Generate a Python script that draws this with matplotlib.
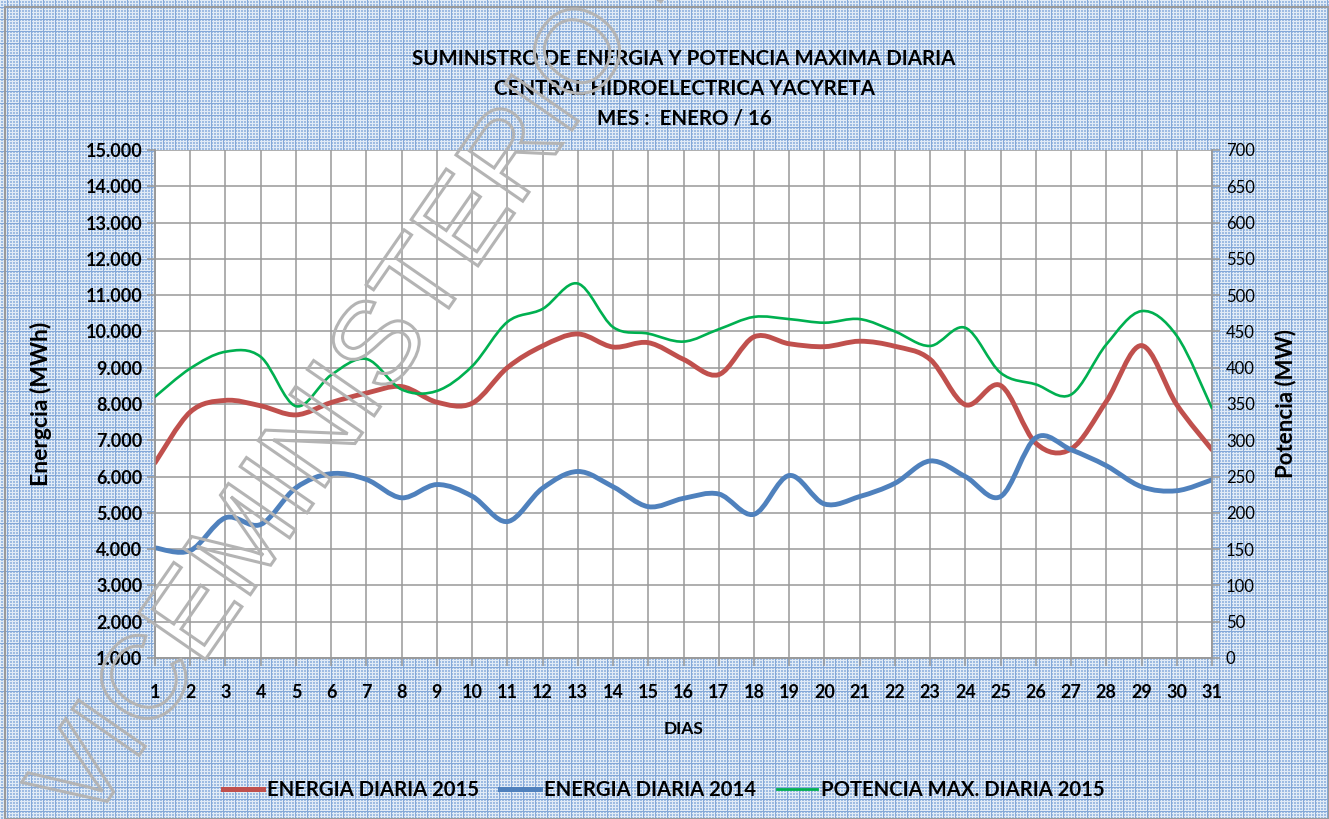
import numpy as np
import matplotlib
matplotlib.use('Agg')
import matplotlib.pyplot as plt
from matplotlib.path import Path
from matplotlib.patches import PathPatch, Rectangle
from matplotlib.lines import Line2D
from matplotlib.textpath import TextPath
from matplotlib.font_manager import FontProperties
from matplotlib.transforms import Affine2D
from matplotlib.ticker import FuncFormatter

plt.rcParams['font.family'] = ['Lato', 'DejaVu Sans']

dias = list(range(1, 32))
energia_2015 = [6380, 7780, 8100, 7950, 7700, 8040, 8300, 8480, 8050, 8020,
                9000, 9600, 9930, 9570, 9690, 9230, 8810, 9850, 9660, 9580,
                9730, 9590, 9230, 7980, 8510, 6920, 6760, 8070, 9610, 7980,
                6740]
energia_2014 = [4035, 3960, 4865, 4680, 5690, 6080, 5920, 5415, 5780, 5460,
                4760, 5680, 6140, 5720, 5170, 5400, 5520, 4960, 6030, 5245,
                5450, 5815, 6430, 6000, 5450, 7070, 6740, 6300, 5720, 5610,
                5910]
potencia_2015 = [360, 399, 422, 415, 347, 390, 412, 370, 368, 402,
                 463, 481, 516, 456, 447, 436, 453, 470, 467, 462,
                 467, 450, 430, 455, 393, 377, 363, 432, 478, 444,
                 344]

titulo = "SUMINISTRO DE ENERGIA Y POTENCIA MAXIMA DIARIA\nCENTRAL HIDROELECTRICA YACYRETA\nMES :  ENERO / 16"
nombres = ["ENERGIA DIARIA 2015", "ENERGIA DIARIA 2014", "POTENCIA MAX. DIARIA 2015"]
colores = ["#C0504D", "#4F81BD", "#00B050"]


def smooth_path(x, y):
    # Excel-like smoothed line: Catmull-Rom segments as cubic Beziers
    p = np.column_stack([x, y]).astype(float)
    p_ext = np.vstack([p[0], p, p[-1]])
    verts = [p[0]]
    codes = [Path.MOVETO]
    for i in range(1, len(p_ext) - 2):
        p0, p1, p2, p3 = p_ext[i - 1], p_ext[i], p_ext[i + 1], p_ext[i + 2]
        c1 = p1 + (p2 - p0) / 6.0
        c2 = p2 - (p3 - p1) / 6.0
        verts += [c1, c2, p2]
        codes += [Path.CURVE4] * 3
    return Path(verts, codes)


def add_smooth(ax, x, y, color, lw):
    patch = PathPatch(smooth_path(x, y), facecolor='none', edgecolor=color,
                      lw=lw, capstyle='round', joinstyle='round', zorder=3)
    ax.add_patch(patch)


W, H = 1329, 819
fig = plt.figure(figsize=(W / 100, H / 100), dpi=100)

# patterned blue background
yy, xx = np.mgrid[0:H, 0:W]
bg = np.ones((H, W, 3)) * np.array([0.62, 0.74, 0.89])
light = ((xx % 3 == 0) | (yy % 3 == 0))
bg[light] = bg[light] * 0.3 + 0.7
dark = ((xx % 12 == 7) | (yy % 12 == 7))
bg[dark] = np.array([0.52, 0.66, 0.85])
fig.figimage(bg, xo=0, yo=0, zorder=0)
fig.patches.append(Rectangle((5, 0), W - 5, H - 7, transform=None, fill=False,
                             edgecolor='#9a9a9a', lw=1.5, zorder=1))

ax = fig.add_axes([155 / W, 1 - 658 / H, (1212 - 155) / W, (658 - 150) / H])
ax.set_facecolor('white')
ax.set_zorder(2)
ax2 = ax.twinx()

ax.set_xlim(1, 31)
ax.set_ylim(1000, 15000)
ax2.set_ylim(0, 700)
ax.set_xticks(dias)
ax.set_yticks(range(1000, 15001, 1000))
ax2.set_yticks(range(0, 701, 50))
ax.yaxis.set_major_formatter(FuncFormatter(lambda v, p: f"{int(v):,}".replace(",", ".")))
ax.grid(True, color='#999999', lw=1.1)
ax.set_axisbelow(True)

for a in (ax, ax2):
    for s in a.spines.values():
        s.set_color('#999999')
        s.set_linewidth(1.1)
    a.spines['top'].set_visible(False)
ax.tick_params(axis='both', colors='#999999', length=6, width=1.1, labelcolor='black')
ax.tick_params(axis='y', labelsize=13, pad=3)
ax.tick_params(axis='x', labelsize=13, pad=13)
ax2.tick_params(axis='y', colors='#999999', length=6, width=1.1, labelcolor='black',
                labelsize=12, pad=4)
for lab in ax.get_xticklabels() + ax.get_yticklabels():
    lab.set_fontweight('bold')

add_smooth(ax, dias, energia_2015, colores[0], 3.5)
add_smooth(ax, dias, energia_2014, colores[1], 3.5)
add_smooth(ax2, dias, potencia_2015, colores[2], 1.9)

ax.set_ylabel("Energcia (MWh)", fontsize=16.5, fontweight='bold', labelpad=24)
ax2.set_ylabel("Potencia (MW)", fontsize=16, fontweight='bold', labelpad=14)
ax.set_xlabel("DIAS", fontsize=12.5, fontweight='bold', labelpad=14)

fig.text(684 / W, 1 - 89 / H, titulo, ha='center', va='center', fontsize=14.8,
         fontweight='bold', linespacing=1.6)

handles = [Line2D([], [], color=c, lw=(3.6 if i < 2 else 2.0)) for i, c in enumerate(colores)]
fig.legend(handles, nombres, loc='center', bbox_to_anchor=(664 / W, 1 - 790 / H),
           ncol=3, frameon=False, prop={'size': 14.6, 'weight': 'bold'},
           handlelength=2.0, handletextpad=0.2, columnspacing=1.0)

# watermark
tp = TextPath((0, 0), "VICEMINISTERIO DE MINAS Y ENERGIA", size=118,
              prop=FontProperties(family='Liberation Sans'))
wm = PathPatch(tp, facecolor='none', edgecolor='#b4b4b4', lw=2.2,
               transform=Affine2D().rotate_deg(55.3).translate(88, -10), zorder=10)
fig.patches.append(wm)

fig.savefig("out.png", dpi=100)
